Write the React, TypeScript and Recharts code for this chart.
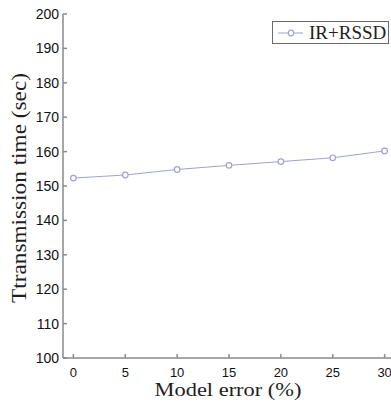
import { Line, LineChart, XAxis, YAxis } from 'recharts';

const modelError = [0, 5, 10, 15, 20, 25, 30];
const transmissionTime = [152.3, 153.2, 154.8, 156.0, 157.1, 158.2, 160.2];
const xTicks = [0, 5, 10, 15, 20, 25, 30];
const yTicks = [100, 110, 120, 130, 140, 150, 160, 170, 180, 190, 200];
const seriesName = "IR+RSSD";

const lineColor = "#9ea2d4";
const axisColor = "#8a8a8a";
const sans = '"Liberation Sans", Arial, sans-serif';
const serif = '"Liberation Serif", "Times New Roman", serif';

const data = modelError.map((x, i) => ({ x, time: transmissionTime[i] }));

// legend box sits over the top right corner of the plot
function LegendBox() {
  return (
    <div style={{ position: 'absolute', left: 272, top: 21, boxSizing: 'border-box', width: 117, height: 23, border: '1px solid #6a6a6a', background: '#fff', display: 'flex', alignItems: 'center', paddingLeft: 4 }}>
      <svg width={30} height={10} style={{ flex: 'none' }}>
        <line x1={1} x2={26} y1={5} y2={5} stroke={lineColor} strokeWidth={1} />
        <circle cx={14} cy={5} r={2.8} stroke={lineColor} fill="#fff" strokeWidth={1.2} />
      </svg>
      <span style={{ fontFamily: serif, fontSize: 19, color: '#1e1e1e', lineHeight: '21px', marginLeft: 2 }}>{seriesName}</span>
    </div>
  );
}

export default function App() {
  return (
    <div style={{ position: 'absolute', left: 0, top: 0, width: 391, height: 402, overflow: 'hidden', background: '#fff' }}>
      <LineChart width={400} height={402} data={data} margin={{ top: 14, right: 5, bottom: 0, left: 0 }}>
        <XAxis xAxisId="b" dataKey="x" type="number" domain={[-1, 31]} ticks={xTicks} height={44}
          stroke={axisColor} strokeWidth={1.5} tickSize={-4} tickMargin={14}
          tick={{ fontSize: 13, fill: '#111', fontFamily: sans }}
          label={{ content: () => (
            <text x={228} y={396} textAnchor="middle" textLength={147} lengthAdjust="spacingAndGlyphs"
              style={{ fontFamily: serif, fontSize: 19, fill: '#1e1e1e' }}>Model error (%)</text>
          ) }} />
        <XAxis xAxisId="t" orientation="top" dataKey="x" type="number" domain={[-1, 31]} ticks={xTicks} height={0}
          stroke={axisColor} strokeWidth={1.5} tickSize={-4} tick={false} />
        <YAxis yAxisId="l" domain={[100, 200]} ticks={yTicks} width={63} stroke={axisColor} strokeWidth={1.5}
          tickSize={-4} tickMargin={8} tick={{ fontSize: 14, fill: '#111', fontFamily: sans }}
          label={{ content: () => (
            <text x={26} y={188} transform="rotate(-90 26 188)" textAnchor="middle" textLength={230} lengthAdjust="spacingAndGlyphs"
              style={{ fontFamily: serif, fontSize: 20, fill: '#1e1e1e' }}>Ttransmission time (sec)</text>
          ) }} />
        <YAxis yAxisId="r" orientation="right" domain={[100, 200]} ticks={yTicks} width={0} stroke={axisColor} strokeWidth={1.5}
          tickSize={-4} tick={false} />
        <Line xAxisId="b" yAxisId="l" dataKey="time" name={seriesName} stroke={lineColor} strokeWidth={1}
          dot={{ r: 2.8, stroke: lineColor, fill: '#fff', strokeWidth: 1.2 }} isAnimationActive={false} />
      </LineChart>
      <LegendBox />
    </div>
  );
}
